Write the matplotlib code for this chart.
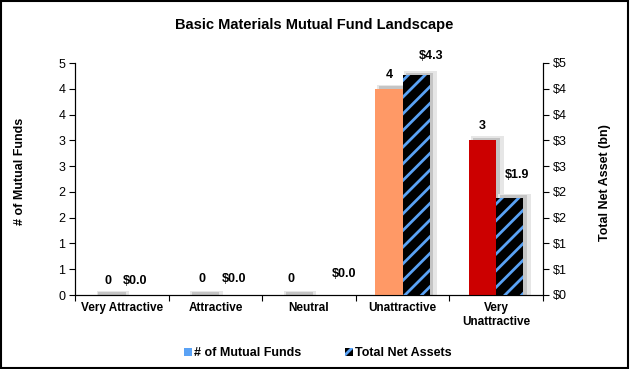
import matplotlib
matplotlib.use("Agg")
import matplotlib.pyplot as plt
from matplotlib.patches import Patch, Rectangle
import numpy as np

plt.rcParams["font.family"] = ["Liberation Sans", "DejaVu Sans"]
plt.rcParams["hatch.linewidth"] = 2.0

categories = ["Very Attractive", "Attractive", "Neutral", "Unattractive", "Very\nUnattractive"]
fund_counts = [0, 0, 0, 4, 3]
net_assets = [0.0, 0.0, 0.0, 4.26, 1.88]
count_colors = ["#00a651", "#8dc63f", "#ffd200", "#ff9966", "#cc0000"]
tick_values = [0, 0.5, 1, 1.5, 2, 2.5, 3, 3.5, 4, 4.5]

# label nudges in pixels (the source chart had hand-placed labels)
count_dx = [0, 0, -4, 0, 0]
count_dy = [14, 16, 16, 14, 14]
tna_dx = [0, 5, 21, 15, 7]
tna_dy = [14, 16, 21, 19, 23]

BLUE = "#5aa2f5"

fig = plt.figure(figsize=(6.3, 3.69), dpi=100)
ax = fig.add_axes([75 / 630, 1 - 295 / 369, 468 / 630, 232 / 369])
ax2 = ax.twinx()

x = np.arange(len(categories)) + 0.5
w = 0.29
xc = x - w / 2
xt = x + w / 2


def shadow(a, xi, v):
    # two layers to fake the soft Excel glow
    a.add_patch(Rectangle((xi - w / 2 + 0.02, 0), w + 0.06, v + 0.08,
                          color="#e6e6e6", zorder=1, linewidth=0))
    a.add_patch(Rectangle((xi - w / 2 + 0.04, 0), w, v + 0.05,
                          color="#c4c4c4", zorder=1, linewidth=0))


for xi, v in zip(xc, fund_counts):
    shadow(ax, xi, v)
for xi, v in zip(xt, net_assets):
    if v > 0:
        shadow(ax, xi, v)

ax.bar(xc, fund_counts, w, color=count_colors, zorder=3)
ax2.bar(xt, net_assets, w, facecolor="black", edgecolor=BLUE, hatch="//",
        linewidth=0, zorder=3)

for xi, v, dx, dy in zip(xc, fund_counts, count_dx, count_dy):
    ax.annotate(f"{v}", (xi, v), xytext=(dx, dy), textcoords="offset pixels",
                ha="center", va="center", fontsize=9, fontweight="bold")
for xi, v, dx, dy in zip(xt, net_assets, tna_dx, tna_dy):
    ax2.annotate(f"${v:.1f}", (xi, v), xytext=(dx, dy), textcoords="offset pixels",
                 ha="center", va="center", fontsize=9, fontweight="bold")

for a in (ax, ax2):
    a.set_xlim(0, 5)
    a.set_ylim(0, 4.5)
    a.set_yticks(tick_values)
    a.spines["top"].set_visible(False)
    a.tick_params(axis="y", direction="out", length=4, labelsize=9, pad=3)

ax.set_yticklabels([f"{int(v + 0.5)}" for v in tick_values])
ax2.set_yticklabels([f"${int(v + 0.5)}" for v in tick_values])

ax.set_xticks(np.arange(0, 6), minor=False)
ax.set_xticklabels([])
ax.set_xticks(x, minor=True)
ax.set_xticklabels(categories, minor=True, fontsize=8.5, fontweight="bold")
ax.tick_params(axis="x", which="major", direction="out", length=4)
ax.tick_params(axis="x", which="minor", length=0, pad=5)
ax2.tick_params(axis="x", which="both", length=0)

fig.text(314 / 630, 1 - 25 / 369, "Basic Materials Mutual Fund Landscape",
         ha="center", va="center", fontsize=10.5, fontweight="bold")
fig.text(20 / 630, 1 - 171 / 369, "# of Mutual Funds", rotation=90,
         ha="center", va="center", fontsize=9, fontweight="bold")
fig.text(605 / 630, 1 - 183 / 369, "Total Net Asset (bn)", rotation=90,
         ha="center", va="center", fontsize=9, fontweight="bold")

handles = [Patch(facecolor=BLUE, linewidth=0),
           Patch(facecolor="black", edgecolor=BLUE, hatch="//", linewidth=0)]
fig.legend(handles, ["# of Mutual Funds", "Total Net Assets"], loc="center",
           bbox_to_anchor=(318 / 630, 1 - 353 / 369), ncol=2, frameon=False,
           prop={"size": 9, "weight": "bold"}, handlelength=0.6, handleheight=0.6,
           handletextpad=0.2, columnspacing=3.5)

fig.patches.append(Rectangle((0.002, 0.003), 0.995, 0.994, transform=fig.transFigure,
                             fill=False, edgecolor="black", linewidth=1.5))

fig.savefig("out.png", dpi=100)
